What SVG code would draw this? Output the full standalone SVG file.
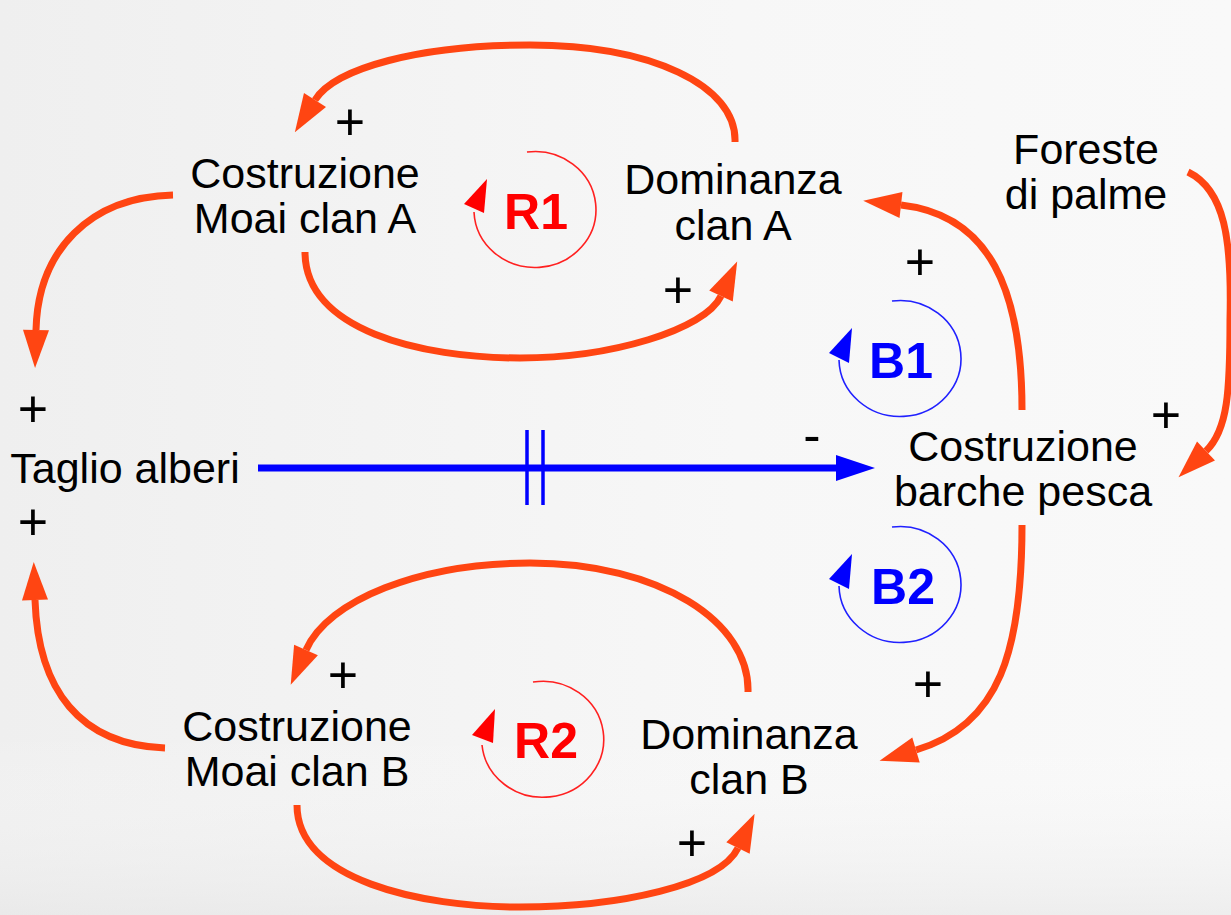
<svg xmlns="http://www.w3.org/2000/svg" width="1231" height="915" viewBox="0 0 1231 915">
<defs>
<linearGradient id="bg" x1="0" y1="0" x2="1" y2="0">
<stop offset="0" stop-color="#efefef"/>
<stop offset="0.6" stop-color="#f7f7f7"/>
<stop offset="1" stop-color="#f9f9f9"/>
</linearGradient>
<linearGradient id="bgv" x1="0" y1="0" x2="0" y2="1">
<stop offset="0.8" stop-color="#ffffff" stop-opacity="0"/>
<stop offset="1" stop-color="#e6e6e6" stop-opacity="0.6"/>
</linearGradient>
<marker id="ao" markerUnits="userSpaceOnUse" orient="auto" refX="0" refY="0" markerWidth="40" markerHeight="30" viewBox="0 -15 40 30" overflow="visible">
<path d="M0,-13 L38,0 L0,13 z" fill="#ff4512"/>
</marker>
<marker id="ab" markerUnits="userSpaceOnUse" orient="auto" refX="0" refY="0" markerWidth="40" markerHeight="30" viewBox="0 -15 40 30" overflow="visible">
<path d="M0,-13 L39,0 L0,13 z" fill="#0000ff"/>
</marker>
</defs>
<style>
.lbl{font-family:"Liberation Sans",Arial,sans-serif;font-size:43px;fill:#000;text-anchor:middle}
.sgn{font-family:"Liberation Sans",Arial,sans-serif;font-size:52px;fill:#000;text-anchor:middle}
.loopR{font-family:"Liberation Sans",Arial,sans-serif;font-size:50px;font-weight:bold;fill:#ff0000;text-anchor:middle}
.loopB{font-family:"Liberation Sans",Arial,sans-serif;font-size:50px;font-weight:bold;fill:#0000ff;text-anchor:middle}
.ol{fill:none;stroke:#ff4512;stroke-width:7;marker-end:url(#ao)}
.bl{fill:none;stroke:#0000ff;stroke-width:7}
.rc{fill:none;stroke:#ff2020;stroke-width:1.6}
.bc{fill:none;stroke:#2020ff;stroke-width:1.6}
</style>
<rect width="1231" height="915" fill="url(#bg)"/>
<rect width="1231" height="915" fill="url(#bgv)"/>

<g id="connectors">
<path class="ol" d="M735,142 C737,85 650,45 530,45 C420,45 335,68 315,100"/>
<path class="ol" d="M305,252 C305,330 420,358 520,358 C610,358 705,330 721,296"/>
<path class="ol" d="M173,195 C90,197 38,250 36,330"/>
<path class="ol" d="M165,748 C80,745 38,690 35,600"/>
<path class="ol" d="M748,692 C750,622 660,563 530,563 C420,563 328,600 306,650"/>
<path class="ol" d="M297,805 C297,880 420,907 520,907 C620,907 720,885 738,848"/>
<path class="ol" d="M1022,410 C1022,290 990,215 901,205"/>
<path class="ol" d="M1022,525 C1022,650 1000,725 916,750"/>
<path class="ol" d="M1188,172 C1225,190 1232,240 1230,320 C1230,390 1228,430 1206,451"/>
<path class="bl" d="M258,468 L836,468" marker-end="url(#ab)"/>
<line x1="527" y1="430" x2="527" y2="505" stroke="#0000ff" stroke-width="3.5"/>
<line x1="543" y1="430" x2="543" y2="505" stroke="#0000ff" stroke-width="3.5"/>
</g>

<g id="signs">
<text class="sgn" x="350" y="140">+</text>
<text class="sgn" x="678" y="308">+</text>
<text class="sgn" x="920" y="280">+</text>
<text class="sgn" x="33" y="427">+</text>
<text class="sgn" x="33" y="540">+</text>
<text class="sgn" x="1166" y="433">+</text>
<text class="sgn" x="343" y="693">+</text>
<text class="sgn" x="928" y="702">+</text>
<text class="sgn" x="692" y="861">+</text>
<text class="sgn" x="812" y="453">-</text>
</g>

<g id="loop-R1">
<path class="rc" d="M527,152 A61 58 0 1 1 474,212"/>
<polygon points="464,204 487,179 484,213" fill="#ff0000"/>
<text class="loopR" x="536" y="229">R1</text>
</g>
<g id="loop-B1">
<path class="bc" d="M892,301 A61 58 0 1 1 839,360"/>
<polygon points="829,353 852,328 849,363" fill="#0000ff"/>
<text class="loopB" x="901" y="378">B1</text>
</g>
<g id="loop-B2">
<path class="bc" d="M892,527 A61 58 0 1 1 839,586"/>
<polygon points="829,579 852,554 849,589" fill="#0000ff"/>
<text class="loopB" x="903" y="604">B2</text>
</g>
<g id="loop-R2">
<path class="rc" d="M533,682 A61 58 0 1 1 482,745"/>
<polygon points="472,735 495,709 493,743" fill="#ff0000"/>
<text class="loopR" x="546" y="758">R2</text>
</g>

<g id="node-moai-a"><text class="lbl" x="305" y="188">Costruzione</text><text class="lbl" x="305" y="233">Moai clan A</text></g>
<g id="node-dom-a"><text class="lbl" x="733" y="194">Dominanza</text><text class="lbl" x="733" y="240">clan A</text></g>
<g id="node-foreste"><text class="lbl" x="1086" y="164">Foreste</text><text class="lbl" x="1086" y="209">di palme</text></g>
<g id="node-taglio"><text class="lbl" x="125" y="483">Taglio alberi</text></g>
<g id="node-barche"><text class="lbl" x="1023" y="461">Costruzione</text><text class="lbl" x="1023" y="506">barche pesca</text></g>
<g id="node-moai-b"><text class="lbl" x="297" y="741">Costruzione</text><text class="lbl" x="297" y="786">Moai clan B</text></g>
<g id="node-dom-b"><text class="lbl" x="749" y="749">Dominanza</text><text class="lbl" x="749" y="794">clan B</text></g>
</svg>
